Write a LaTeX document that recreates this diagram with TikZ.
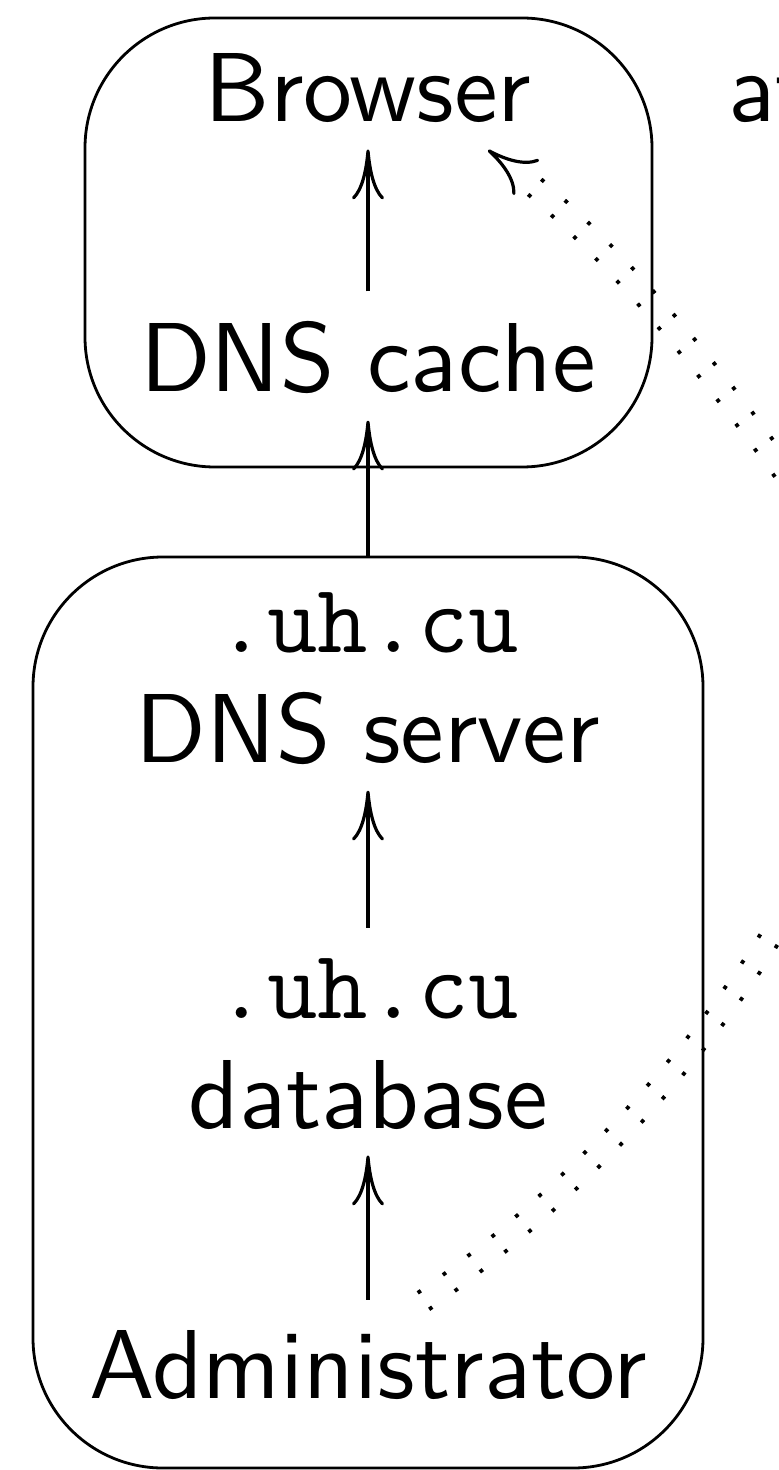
\documentclass[tikz,border=0pt]{standalone}
\usepackage{tikz}
\usetikzlibrary{arrows.meta, decorations.markings}
\newcommand{\slidetext}[1]{\scalebox{4.9}{\sffamily #1}}

\begin{document}
\begin{tikzpicture}[
        x=0.5pt, y=-0.5pt,
        word/.style={inner sep=0pt, anchor=base},
        zonename/.style={font=\fontsize{49}{56}\selectfont\ttfamily, inner sep=0pt, anchor=base},
        box/.style={rectangle, draw, rounded corners=65pt, line width=1.4pt, inner sep=0pt, outer sep=0pt},
        arrow/.style={-{Computer Modern Rightarrow[length=25pt, width=16pt]}, line width=1.6pt, shorten >=13pt, shorten <=15pt},
        spoof/.style={postaction={decorate}, decoration={markings,
            mark=between positions 0 and -25pt step 15.6pt with {\fill (-0.95pt,4.05pt) rectangle (0.95pt,5.95pt) (-0.95pt,-5.95pt) rectangle (0.95pt,-4.05pt);}}},
        spoofhead/.style={draw, line width=1.6pt, dash pattern=on 0pt off 2000pt, -{Computer Modern Rightarrow[length=24pt, width=22pt]}}
    ]
        \useasboundingbox (0,0) rectangle (778,1470);

        % dotted routes off to the right
        \coordinate (adminout) at (425,1300);
        \coordinate (offright) at (800,885);
        \coordinate (offright2) at (800,495);
        \coordinate (browserin) at (488,150);
        \path[spoof] (adminout) .. controls (590,1185) and (730,1020) .. (offright);
        \path[spoof, spoofhead] (offright2) .. controls (720,380) and (600,230) .. (browserin);

        \node[box, minimum width=283.5pt, minimum height=224.5pt] (client) at (368.5,242.5) {};
        \node[box, minimum width=335pt, minimum height=455.5pt] (uhcu) at (368,1012.5) {};

        \node[word] (browser) at (368,122) {\slidetext{Browser}};
        \node[word] (cache) at (368,392) {\slidetext{DNS cache}};
        \node[zonename] (srvname) at (368,652) {.uh.cu};
        \node[word] (server) at (368,762) {\slidetext{DNS server}};
        \node[zonename] (dbname) at (368,1018) {.uh.cu};
        \node[word] (db) at (368,1128) {\slidetext{database}};
        \node[word] (admin) at (368,1398) {\slidetext{Administrator}};
        \node[word, anchor=base west] (attacker) at (728,122) {\slidetext{at}};

        \draw[arrow] (cache.north) -- (browser.south);
        \draw[arrow, shorten <=0pt] (uhcu.north) -- (cache.south);
        \draw[arrow] (dbname.north) -- (server.south);
        \draw[arrow] (admin.north) -- (db.south);
    \end{tikzpicture}
\end{document}
